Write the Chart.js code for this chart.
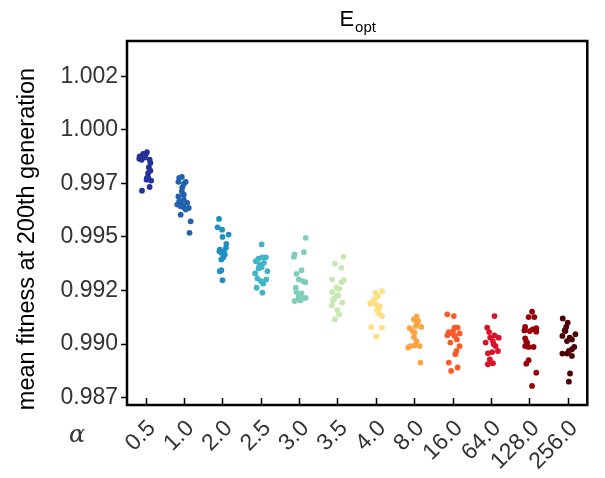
<!DOCTYPE html>
<html>
<head>
<meta charset="utf-8">
<script src="https://cdn.jsdelivr.net/npm/chart.js@4"></script>
<style>
  html, body { margin: 0; padding: 0; background: #fff; }
  #wrap { width: 605px; height: 478px; }
</style>
</head>
<body>
<div id="wrap"><canvas id="chart" width="605" height="478"></canvas></div>
<script>
const categories = ["0.5", "1.0", "2.0", "2.5", "3.0", "3.5", "4.0", "8.0", "16.0", "64.0", "128.0", "256.0"];
const colors = ["#24339a", "#2262ad", "#1e90c2", "#40b5c6", "#7ecebb", "#c8e8b2", "#fedf82", "#fea443", "#fc5a2a", "#d9132b", "#970009", "#4d0008"];

const yTicks = [0.9875, 0.99, 0.9925, 0.995, 0.9975, 1.0, 1.0025];
const yTickLabels = ["0.987", "0.990", "0.992", "0.995", "0.997", "1.000", "1.002"];

// mean fitness per run, one list per alpha
const fitness = [
  [0.99876, 0.99887, 0.99896, 0.99860, 0.99871, 0.99860, 0.99845, 0.99824, 0.99809, 0.99778, 0.99767, 0.99763, 0.99733, 0.99716, 0.99884, 0.99865, 0.99798, 0.99775, 0.99880],
  [0.99775, 0.99780, 0.99757, 0.99747, 0.99757, 0.99731, 0.99713, 0.99697, 0.99689, 0.99666, 0.99651, 0.99643, 0.99638, 0.99659, 0.99628, 0.99635, 0.99604, 0.99573, 0.99519, 0.99674, 0.99651],
  [0.99584, 0.99545, 0.99534, 0.99500, 0.99511, 0.99468, 0.99449, 0.99441, 0.99426, 0.99418, 0.99405, 0.99395, 0.99340, 0.99345, 0.99298, 0.99433, 0.99433],
  [0.99465, 0.99387, 0.99399, 0.99405, 0.99405, 0.99372, 0.99379, 0.99359, 0.99353, 0.99340, 0.99330, 0.99306, 0.99294, 0.99302, 0.99282, 0.99263, 0.99240, 0.99364],
  [0.99496, 0.99429, 0.99418, 0.99407, 0.99345, 0.99328, 0.99302, 0.99294, 0.99289, 0.99263, 0.99243, 0.99237, 0.99224, 0.99201, 0.99209, 0.99213, 0.99216, 0.99204],
  [0.99407, 0.99356, 0.99375, 0.99298, 0.99289, 0.99302, 0.99263, 0.99258, 0.99243, 0.99227, 0.99212, 0.99193, 0.99181, 0.99159, 0.99139, 0.99115, 0.99205, 0.99224],
  [0.99247, 0.99240, 0.99224, 0.99201, 0.99190, 0.99185, 0.99170, 0.99157, 0.99142, 0.99131, 0.99080, 0.99077, 0.99035, 0.99209, 0.99177],
  [0.99128, 0.99115, 0.99108, 0.99074, 0.99084, 0.99080, 0.99054, 0.99033, 0.99014, 0.98991, 0.98984, 0.98994, 0.98991, 0.98914, 0.99100, 0.99061],
  [0.99139, 0.99131, 0.99077, 0.99077, 0.99056, 0.99050, 0.99050, 0.99041, 0.99038, 0.99022, 0.99007, 0.98991, 0.98968, 0.98953, 0.98914, 0.98891, 0.98875, 0.99061],
  [0.99131, 0.99077, 0.99056, 0.99041, 0.99030, 0.99007, 0.99014, 0.98991, 0.98968, 0.98957, 0.98963, 0.98929, 0.98906, 0.98911, 0.98999, 0.99030],
  [0.99151, 0.99126, 0.99126, 0.99080, 0.99064, 0.99061, 0.99069, 0.99074, 0.99058, 0.99027, 0.99012, 0.98991, 0.98987, 0.98987, 0.98925, 0.98909, 0.98867, 0.98805, 0.99007],
  [0.99120, 0.99100, 0.99080, 0.99061, 0.99038, 0.99030, 0.99046, 0.99022, 0.99014, 0.98987, 0.98976, 0.98968, 0.98956, 0.98956, 0.98945, 0.98863, 0.98825, 0.99064]
];

// horizontal strip jitter of each point, in category units
const jitter = [
  [-0.17, -0.08, 0.02, -0.12, -0.04, 0.09, 0.11, 0.07, 0.11, 0.05, 0.01, 0.13, 0.09, -0.11, -0.01, -0.18, 0.05, 0.02, -0.05],
  [-0.14, -0.07, -0.16, -0.02, 0.03, -0.06, -0.07, -0.02, -0.16, -0.14, -0.19, -0.10, -0.02, 0.07, 0.03, 0.11, -0.10, 0.16, 0.13, -0.02, -0.06],
  [-0.10, -0.14, -0.02, -0.01, 0.15, 0.09, 0.08, -0.08, -0.04, 0.05, 0.01, -0.04, -0.08, -0.04, -0.01, -0.09, 0.03],
  [0.01, -0.14, -0.07, 0.03, 0.12, -0.04, 0.07, 0.01, -0.07, 0.16, -0.16, -0.10, -0.01, 0.13, 0.05, -0.12, 0.03, -0.05],
  [0.16, 0.11, -0.13, -0.15, 0.05, -0.08, -0.02, 0.09, 0.15, -0.10, -0.08, 0.05, -0.02, -0.13, -0.04, 0.09, 0.16, 0.02],
  [0.14, 0.09, -0.08, 0.15, 0.09, -0.15, -0.04, 0.03, -0.15, 0.01, -0.10, 0.11, -0.16, -0.02, 0.03, -0.08, -0.13, -0.04],
  [0.15, -0.02, 0.04, -0.08, -0.16, -0.02, 0.07, 0.02, 0.07, 0.15, -0.13, 0.15, 0.01, -0.05, 0.09],
  [0.05, -0.02, 0.09, -0.13, 0.03, 0.17, 0.00, -0.02, 0.05, -0.11, -0.17, 0.00, 0.13, 0.15, 0.06, -0.06],
  [-0.15, 0.02, 0.04, 0.12, -0.11, -0.03, 0.17, -0.15, 0.04, 0.10, -0.07, 0.17, 0.09, 0.06, -0.11, 0.12, -0.05, 0.00],
  [0.08, -0.11, -0.06, 0.08, 0.19, -0.15, 0.04, 0.11, 0.17, -0.09, 0.02, -0.04, -0.09, 0.04, 0.06, -0.03],
  [0.06, -0.03, 0.12, -0.12, -0.14, 0.00, 0.08, 0.17, 0.17, -0.12, -0.09, -0.12, -0.03, 0.10, -0.03, -0.09, 0.17, 0.06, -0.07],
  [-0.14, -0.01, -0.05, -0.07, -0.15, 0.04, 0.19, 0.10, -0.03, 0.16, 0.10, 0.02, -0.15, -0.03, 0.10, 0.05, 0.02, -0.09]
];

const FONT = "'Liberation Sans', Arial, sans-serif";

const datasets = categories.map((c, i) => ({
  label: c,
  data: fitness[i].map((v, k) => ({ x: i + jitter[i][k], y: v })),
  backgroundColor: colors[i],
  borderWidth: 0,
  pointRadius: 2.9,
  pointHoverRadius: 2.9
}));

const decor = {
  id: "decor",
  afterDraw(chart) {
    const ctx = chart.ctx;
    const a = chart.chartArea;
    ctx.save();
    ctx.strokeStyle = "#000";
    ctx.lineWidth = 2.5;
    ctx.strokeRect(a.left, a.top, a.right - a.left, a.bottom - a.top);

    // title E_opt
    ctx.fillStyle = "#000";
    ctx.textBaseline = "alphabetic";
    ctx.font = "22px " + FONT;
    const wE = ctx.measureText("E").width;
    ctx.font = "15px " + FONT;
    const wS = ctx.measureText("opt").width;
    const x0 = (a.left + a.right) / 2 - (wE + wS) / 2;
    ctx.font = "22px " + FONT;
    ctx.fillText("E", x0, 26);
    ctx.font = "15px " + FONT;
    ctx.fillText("opt", x0 + wE + 1, 32);

    // y title
    ctx.font = "23.5px " + FONT;
    ctx.textAlign = "center";
    ctx.textBaseline = "middle";
    ctx.translate(28, 239);
    ctx.rotate(-Math.PI / 2);
    ctx.fillText("mean fitness at 200th generation", 0, 0);
    ctx.restore();

    ctx.save();
    ctx.fillStyle = "#333";
    ctx.font = "italic 24px 'DejaVu Serif', serif";
    ctx.textAlign = "center";
    ctx.textBaseline = "middle";
    ctx.fillText("\u03b1", 77, 436);
    ctx.restore();
  }
};

new Chart(document.getElementById("chart"), {
  type: "scatter",
  data: { datasets },
  options: {
    responsive: false,
    animation: false,
    layout: { padding: { left: 0, top: 41, right: 9, bottom: 0 } },
    plugins: { legend: { display: false }, tooltip: { enabled: false }, title: { display: false } },
    scales: {
      x: {
        type: "linear",
        min: -0.5,
        max: 11.5,
        afterBuildTicks: s => { s.ticks = categories.map((c, i) => ({ value: i })); },
        afterFit: s => { s.height = 73; },
        border: { display: false },
        grid: { drawOnChartArea: false, drawTicks: true, tickLength: -7, tickColor: "#000", tickWidth: 1.5 },
        ticks: {
          autoSkip: false,
          minRotation: 45,
          maxRotation: 45,
          padding: 17,
          labelOffset: 6,
          color: "#333",
          font: { family: FONT, size: 23 },
          callback: v => categories[v]
        }
      },
      y: {
        min: 0.98716,
        max: 1.00414,
        afterBuildTicks: s => { s.ticks = yTicks.map(v => ({ value: v })); },
        afterFit: s => { s.width = 127; },
        border: { display: false },
        grid: { drawOnChartArea: false, drawTicks: true, tickLength: 6, tickColor: "#000", tickWidth: 1.5 },
        ticks: {
          padding: 3,
          color: "#333",
          font: { family: FONT, size: 23 },
          callback: (v) => yTickLabels[yTicks.indexOf(v)]
        }
      }
    }
  },
  plugins: [decor]
});
</script>
</body>
</html>
